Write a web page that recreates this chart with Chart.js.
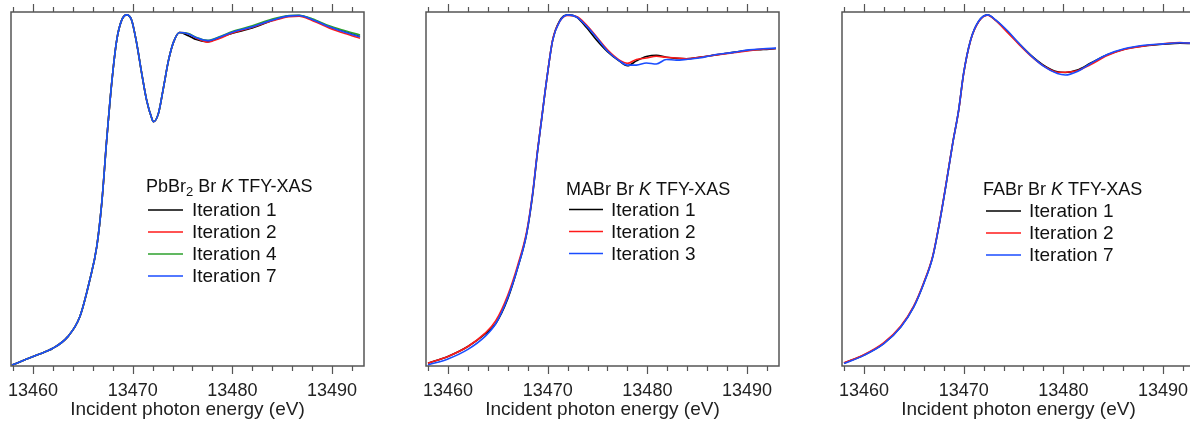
<!DOCTYPE html>
<html>
<head>
<meta charset="utf-8">
<script src="https://cdn.jsdelivr.net/npm/chart.js@4.4.0/dist/chart.umd.min.js"></script>
<style>
  html, body { margin: 0; padding: 0; background: #fff; overflow: hidden; }
  .panel { position: absolute; top: 0; width: 415px; height: 423px; }
</style>
</head>
<body>
<div class="panel" style="left:0"><canvas id="pbbr2"></canvas></div>
<div class="panel" style="left:415px"><canvas id="mabr"></canvas></div>
<div class="panel" style="left:831px"><canvas id="fabr"></canvas></div>
<script>
// tick labels on the energy axis
const energyTicks = [13460, 13470, 13480, 13490]

// PbBr2
const pbEnergy = [13457.9, 13460.4, 13462.0, 13463.5, 13464.7, 13465.7, 13466.4, 13466.9, 13467.4, 13467.9, 13468.4, 13468.9, 13469.4, 13469.9, 13470.4, 13470.9, 13471.4, 13471.9, 13472.1, 13472.6, 13473.1, 13473.6, 13474.1, 13474.7, 13475.6, 13476.4, 13477.5, 13478.7, 13480.0, 13482.0, 13484.0, 13485.7, 13486.7, 13488.0, 13489.7, 13491.3, 13492.8]
const pbIter1 = [0.003, 0.031, 0.050, 0.083, 0.139, 0.243, 0.337, 0.460, 0.640, 0.800, 0.920, 0.977, 0.992, 0.977, 0.912, 0.828, 0.751, 0.701, 0.690, 0.715, 0.788, 0.864, 0.915, 0.942, 0.933, 0.922, 0.916, 0.928, 0.940, 0.955, 0.976, 0.989, 0.990, 0.979, 0.959, 0.944, 0.931]
const pbIter2 = [0.003, 0.031, 0.050, 0.083, 0.139, 0.243, 0.337, 0.460, 0.640, 0.800, 0.920, 0.977, 0.992, 0.977, 0.912, 0.828, 0.751, 0.701, 0.690, 0.715, 0.788, 0.864, 0.915, 0.942, 0.938, 0.926, 0.915, 0.925, 0.941, 0.957, 0.975, 0.987, 0.988, 0.976, 0.955, 0.939, 0.926]
const pbIter4 = [0.003, 0.031, 0.050, 0.083, 0.139, 0.243, 0.337, 0.460, 0.640, 0.800, 0.920, 0.977, 0.992, 0.977, 0.912, 0.828, 0.751, 0.701, 0.690, 0.715, 0.788, 0.864, 0.915, 0.942, 0.939, 0.928, 0.920, 0.930, 0.945, 0.961, 0.980, 0.990, 0.991, 0.981, 0.961, 0.947, 0.935]
const pbIter7 = [0.003, 0.031, 0.050, 0.083, 0.139, 0.243, 0.337, 0.460, 0.640, 0.800, 0.920, 0.977, 0.992, 0.977, 0.912, 0.828, 0.751, 0.701, 0.690, 0.715, 0.788, 0.864, 0.915, 0.942, 0.938, 0.927, 0.919, 0.929, 0.943, 0.958, 0.977, 0.989, 0.990, 0.979, 0.958, 0.943, 0.930]

// MABr
const maEnergy = [13458.0, 13460.0, 13462.0, 13463.7, 13464.8, 13466.0, 13467.0, 13467.9, 13468.5, 13469.0, 13469.4, 13469.9, 13470.5, 13471.2, 13472.0, 13472.9, 13473.9, 13474.9, 13476.0, 13477.2, 13478.0, 13478.9, 13479.9, 13480.9, 13481.9, 13482.9, 13483.9, 13485.2, 13486.9, 13488.6, 13490.2, 13491.6, 13492.9]
const maIter1 = [0.008, 0.027, 0.055, 0.090, 0.120, 0.190, 0.278, 0.375, 0.485, 0.610, 0.698, 0.808, 0.920, 0.975, 0.992, 0.986, 0.956, 0.921, 0.888, 0.861, 0.848, 0.862, 0.874, 0.878, 0.872, 0.869, 0.868, 0.872, 0.879, 0.886, 0.892, 0.894, 0.897]
const maIter2 = [0.008, 0.027, 0.055, 0.092, 0.128, 0.200, 0.285, 0.380, 0.490, 0.612, 0.700, 0.808, 0.921, 0.973, 0.990, 0.987, 0.963, 0.930, 0.893, 0.864, 0.855, 0.866, 0.870, 0.875, 0.872, 0.870, 0.868, 0.872, 0.879, 0.885, 0.891, 0.895, 0.897]
const maIter3 = [0.003, 0.020, 0.047, 0.083, 0.120, 0.193, 0.278, 0.375, 0.488, 0.610, 0.698, 0.808, 0.920, 0.973, 0.992, 0.986, 0.960, 0.928, 0.890, 0.862, 0.850, 0.850, 0.856, 0.853, 0.866, 0.864, 0.866, 0.870, 0.880, 0.886, 0.893, 0.896, 0.898]

// FABr
const faEnergy = [13458.0, 13460.0, 13462.0, 13463.7, 13465.0, 13466.0, 13466.9, 13467.5, 13468.2, 13468.9, 13469.5, 13470.0, 13470.7, 13471.5, 13472.4, 13473.2, 13474.4, 13475.5, 13476.7, 13478.0, 13479.4, 13480.2, 13481.4, 13482.7, 13484.4, 13486.1, 13488.1, 13490.0, 13491.7, 13492.9]
const faIter1 = [0.008, 0.031, 0.064, 0.111, 0.168, 0.234, 0.309, 0.393, 0.507, 0.629, 0.723, 0.827, 0.921, 0.973, 0.992, 0.977, 0.944, 0.912, 0.879, 0.850, 0.831, 0.829, 0.836, 0.855, 0.879, 0.895, 0.904, 0.909, 0.912, 0.911]
const faIter2 = [0.009, 0.032, 0.066, 0.113, 0.170, 0.236, 0.311, 0.394, 0.508, 0.629, 0.722, 0.826, 0.920, 0.972, 0.991, 0.976, 0.942, 0.910, 0.877, 0.848, 0.830, 0.830, 0.834, 0.851, 0.877, 0.894, 0.904, 0.910, 0.914, 0.911]
const faIter7 = [0.007, 0.030, 0.063, 0.110, 0.167, 0.233, 0.308, 0.392, 0.506, 0.628, 0.723, 0.827, 0.921, 0.974, 0.992, 0.978, 0.947, 0.913, 0.878, 0.847, 0.826, 0.822, 0.832, 0.854, 0.880, 0.896, 0.906, 0.910, 0.913, 0.912]

const BLACK = "#000000"
const RED = "#ff1a1a"
const GREEN = "#2ca02c"
const BLUE = "#1a4dff"

const FONT = "'Liberation Sans', Arial, sans-serif"

// box round the plot + outward ticks on top and bottom
const framePlugin = {
  id: "frame",
  afterDraw(chart) {
    const { ctx, chartArea, scales } = chart
    const x = scales.x
    ctx.save()
    ctx.strokeStyle = "#555"
    ctx.lineWidth = 1.5
    ctx.strokeRect(chartArea.left, chartArea.top, chartArea.right - chartArea.left, chartArea.bottom - chartArea.top)
    ctx.lineWidth = 1.2
    ctx.beginPath()
    for (let e = 13458; e <= 13493; e += 2) {
      const px = Math.round(x.getPixelForValue(e)) + 0.5
      const len = e % 10 === 0 ? 8 : 5
      ctx.moveTo(px, chartArea.top)
      ctx.lineTo(px, chartArea.top - len)
      ctx.moveTo(px, chartArea.bottom)
      ctx.lineTo(px, chartArea.bottom + len)
    }
    ctx.stroke()
    ctx.restore()
  },
}

// legend with heading (sub/italic parts) inside the plot
const legendPlugin = {
  id: "xasLegend",
  afterDraw(chart, args, opts) {
    const { ctx, chartArea } = chart
    const left = chartArea.left
    ctx.save()
    ctx.fillStyle = "#111"
    ctx.textBaseline = "alphabetic"
    let hx = left + opts.headX
    opts.heading.forEach((p) => {
      ctx.font = p.font
      ctx.fillText(p.text, hx, opts.headY + (p.dy || 0))
      hx += ctx.measureText(p.text).width
    })
    ctx.font = "19px " + FONT
    ctx.textBaseline = "middle"
    chart.data.datasets.forEach((ds, i) => {
      const ly = opts.entryY + i * opts.entryStep
      ctx.strokeStyle = ds.borderColor
      ctx.lineWidth = 1.5
      ctx.beginPath()
      ctx.moveTo(left + opts.lineX0, ly)
      ctx.lineTo(left + opts.lineX1, ly)
      ctx.stroke()
      ctx.fillText(ds.label, left + opts.textX, ly + 1)
    })
    ctx.restore()
  },
}

function heading(name, sub) {
  const parts = [{ text: name, font: "18px " + FONT }]
  if (sub) parts.push({ text: sub, font: "13px " + FONT, dy: 4 })
  parts.push({ text: " Br ", font: "18px " + FONT })
  parts.push({ text: "K", font: "italic 18px " + FONT })
  parts.push({ text: " TFY-XAS", font: "18px " + FONT })
  return parts
}

function xasPanel(canvasId, energy, series, legendOpts) {
  new Chart(document.getElementById(canvasId), {
    type: "line",
    plugins: [framePlugin, legendPlugin],
    data: {
      datasets: series.map((s, i) => ({
        label: s.label,
        data: energy.map((e, k) => ({ x: e, y: s.values[k] })),
        borderColor: s.color,
        borderWidth: 1.6,
        pointRadius: 0,
        cubicInterpolationMode: "monotone",
        fill: false,
        order: series.length - i,
      })),
    },
    options: {
      responsive: true,
      maintainAspectRatio: false,
      devicePixelRatio: 1,
      animation: false,
      layout: {
        padding: { left: 11, right: 51, top: 12, bottom: 2 },
      },
      scales: {
        x: {
          type: "linear",
          min: 13457.8,
          max: 13493.2,
          afterBuildTicks: (scale) => {
            scale.ticks = energyTicks.map((v) => ({ value: v }))
          },
          afterFit: (scale) => {
            scale.paddingLeft = 0
            scale.paddingRight = 0
            scale.height = 55
          },
          grid: { display: false, drawTicks: false },
          border: { display: false },
          ticks: {
            color: "#222",
            padding: 14,
            maxRotation: 0,
            autoSkip: false,
            font: { family: FONT, size: 18 },
            callback: (v) => String(v),
          },
          title: {
            display: true,
            text: "Incident photon energy (eV)",
            color: "#222",
            padding: { top: 0, bottom: 0 },
            font: { family: FONT, size: 19 },
          },
        },
        y: {
          display: false,
          min: 0,
          max: 1,
        },
      },
      plugins: {
        legend: { display: false },
        tooltip: { enabled: false },
        xasLegend: legendOpts,
      },
    },
  })
}

xasPanel(
  "pbbr2",
  pbEnergy,
  [
    { label: "Iteration 1", values: pbIter1, color: BLACK },
    { label: "Iteration 2", values: pbIter2, color: RED },
    { label: "Iteration 4", values: pbIter4, color: GREEN },
    { label: "Iteration 7", values: pbIter7, color: BLUE },
  ],
  { heading: heading("PbBr", "2"), headX: 135, headY: 192, lineX0: 137, lineX1: 172, textX: 181, entryY: 210, entryStep: 22 },
)

xasPanel(
  "mabr",
  maEnergy,
  [
    { label: "Iteration 1", values: maIter1, color: BLACK },
    { label: "Iteration 2", values: maIter2, color: RED },
    { label: "Iteration 3", values: maIter3, color: BLUE },
  ],
  { heading: heading("MABr"), headX: 140, headY: 195, lineX0: 143, lineX1: 177, textX: 185, entryY: 209.5, entryStep: 22 },
)

xasPanel(
  "fabr",
  faEnergy,
  [
    { label: "Iteration 1", values: faIter1, color: BLACK },
    { label: "Iteration 2", values: faIter2, color: RED },
    { label: "Iteration 7", values: faIter7, color: BLUE },
  ],
  { heading: heading("FABr"), headX: 141, headY: 195, lineX0: 144, lineX1: 179, textX: 187, entryY: 211, entryStep: 22 },
)
</script>
</body>
</html>
